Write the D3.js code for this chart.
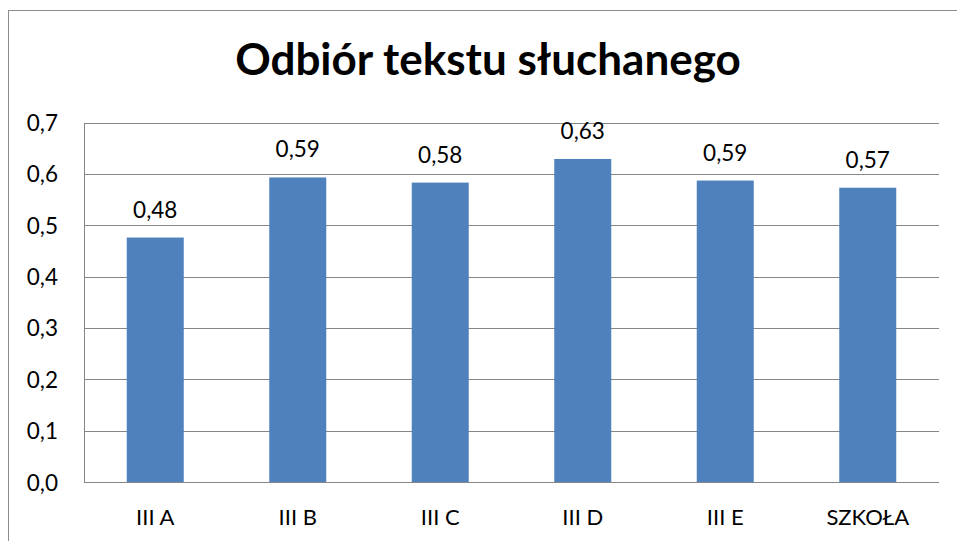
<!DOCTYPE html>
<html>
<head>
<meta charset="utf-8">
<script src="https://cdn.jsdelivr.net/npm/d3@7"></script>
<style>
  html, body { margin: 0; padding: 0; background: #ffffff; }
  svg { display: block; }
</style>
</head>
<body>
<svg id="chart" width="957" height="541"></svg>
<script>
const title = "Odbiór tekstu słuchanego";
const categories = ["III A", "III B", "III C", "III D", "III E", "SZKOŁA"];
const values = [0.476, 0.593, 0.583, 0.629, 0.587, 0.573];
const yTicks = [0, 0.1, 0.2, 0.3, 0.4, 0.5, 0.6, 0.7];

const svg = d3.select("#chart");
const font = "Lato, 'Open Sans', sans-serif";
const fmt = d => d3.format(".2f")(d).replace(".", ",");
const fmtTick = d => d3.format(".1f")(d).replace(".", ",");

// outer chart border
svg.append("rect")
  .attr("x", 8.5).attr("y", 10.5)
  .attr("width", 960).attr("height", 540)
  .attr("fill", "#ffffff")
  .attr("stroke", "#8c8c8c").attr("stroke-width", 1);

const plot = { left: 84, right: 939, top: 122.5, bottom: 482 };

const x = d3.scaleBand()
  .domain(categories)
  .range([plot.left, plot.right])
  .paddingInner(0.6)
  .paddingOuter(0.3);

const y = d3.scaleLinear()
  .domain([0, 0.7])
  .range([plot.bottom, plot.top]);

// gridlines
svg.append("g")
  .selectAll("line")
  .data(yTicks)
  .join("line")
  .attr("x1", plot.left).attr("x2", plot.right)
  .attr("y1", d => Math.round(y(d)) + 0.5)
  .attr("y2", d => Math.round(y(d)) + 0.5)
  .attr("stroke", "#868686").attr("stroke-width", 1);

// left axis line
svg.append("line")
  .attr("x1", plot.left + 0.5).attr("x2", plot.left + 0.5)
  .attr("y1", Math.round(y(0.7)) + 0.5).attr("y2", Math.round(y(0)) + 0.5)
  .attr("stroke", "#868686").attr("stroke-width", 1);

// y tick labels
svg.append("g")
  .selectAll("text")
  .data(yTicks)
  .join("text")
  .attr("x", 58)
  .attr("y", d => y(d) + 8.5)
  .attr("text-anchor", "end")
  .attr("font-family", font)
  .attr("font-size", 22.5)
  .attr("fill", "#000")
  .text(fmtTick);

// bars
svg.append("g")
  .selectAll("rect")
  .data(values)
  .join("rect")
  .attr("x", (d, i) => x(categories[i]))
  .attr("width", x.bandwidth())
  .attr("y", d => y(d))
  .attr("height", d => y(0) - y(d))
  .attr("fill", "#4F81BD");

// value labels
svg.append("g")
  .selectAll("text")
  .data(values)
  .join("text")
  .attr("x", (d, i) => x(categories[i]) + x.bandwidth() / 2)
  .attr("y", d => y(d) - 20)
  .attr("text-anchor", "middle")
  .attr("font-family", font)
  .attr("font-size", 22.5)
  .attr("fill", "#000")
  .text(fmt);

// category labels
svg.append("g")
  .selectAll("text")
  .data(categories)
  .join("text")
  .attr("x", d => x(d) + x.bandwidth() / 2)
  .attr("y", 525)
  .attr("text-anchor", "middle")
  .attr("font-family", font)
  .attr("font-size", 22)
  .attr("fill", "#000")
  .text(d => d);

// title
svg.append("text")
  .attr("x", 488)
  .attr("y", 75)
  .attr("text-anchor", "middle")
  .attr("font-family", font)
  .attr("font-weight", "bold")
  .attr("font-size", 44)
  .attr("fill", "#000")
  .text(title);
</script>
</body>
</html>
